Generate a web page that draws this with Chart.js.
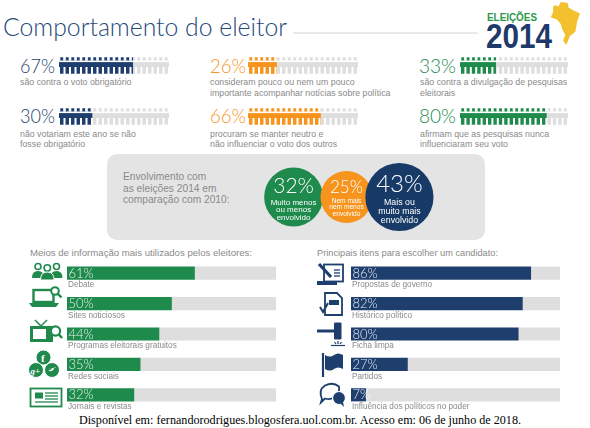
<!DOCTYPE html>
<html>
<head>
<meta charset="utf-8">
<script src="https://cdn.jsdelivr.net/npm/chart.js@4.4.1/dist/chart.umd.min.js"></script>
<style>
  body { margin: 0; width: 590px; height: 428px; background: #fff; position: relative; overflow: hidden; }
  canvas, svg { position: absolute; }
  svg { left: 0; top: 0; }
  .t { font-family: "Liberation Sans", Arial, sans-serif; fill: #8a8a8a; }
  .lt { font-family: Lato, "Open Sans", sans-serif; font-weight: 300; }
</style>
</head>
<body>

<svg width="590" height="428" viewBox="0 0 590 428">
  <!-- header -->
  <text class="lt" x="3" y="36" font-size="25" fill="#24497a" textLength="284" lengthAdjust="spacingAndGlyphs">Comportamento do eleitor</text>
  <line x1="293" y1="33" x2="478" y2="33" stroke="#d4d4d4" stroke-width="1"/>
  <polygon points="560.8,2 567.7,3.1 568.5,7.5 573.1,10.3 580,13.6 577,22 575.4,31.7 570,36.1 566.2,44.9 563.1,40.5 565.4,35 562.3,29.5 560.8,24 556.9,19.6 550.8,17.4 553.1,11.9 553.1,6.4 555.4,5.3 558.5,6.4" fill="#f3c12e"/>
  <text x="487" y="21" font-family="Liberation Sans" font-weight="bold" font-size="10" fill="#2a9a48" textLength="50" lengthAdjust="spacingAndGlyphs">ELEIÇÕES</text>
  <text x="486" y="48" font-family="Liberation Sans" font-weight="bold" font-size="35" fill="#1e3a6b" textLength="66" lengthAdjust="spacingAndGlyphs">2014</text>

  <!-- stat numbers -->
  <text class="lt" x="20" y="72.5" font-size="19" fill="#1e3f6e" textLength="35" lengthAdjust="spacingAndGlyphs">67%</text>
  <text class="lt" x="20" y="122.5" font-size="19" fill="#1e3f6e" textLength="35" lengthAdjust="spacingAndGlyphs">30%</text>
  <text class="lt" x="210" y="72.5" font-size="19" fill="#f7941d" textLength="36" lengthAdjust="spacingAndGlyphs">26%</text>
  <text class="lt" x="210" y="122.5" font-size="19" fill="#f7941d" textLength="36" lengthAdjust="spacingAndGlyphs">66%</text>
  <text class="lt" x="419" y="72.5" font-size="19" fill="#1e8a4c" textLength="37" lengthAdjust="spacingAndGlyphs">33%</text>
  <text class="lt" x="419" y="122.5" font-size="19" fill="#1e8a4c" textLength="37" lengthAdjust="spacingAndGlyphs">80%</text>

  <!-- stat descriptions -->
  <g class="t" font-size="8.8">
    <text x="20" y="85">são contra o voto obrigatório</text>
    <text x="20" y="136.5">não votariam este ano se não</text>
    <text x="20" y="147">fosse obrigatório</text>
    <text x="210" y="85">consideram pouco ou nem um pouco</text>
    <text x="210" y="95.5">importante acompanhar notícias sobre política</text>
    <text x="210" y="136.5">procuram se manter neutro e</text>
    <text x="210" y="147">não influenciar o voto dos outros</text>
    <text x="420" y="85">são contra a divulgação de pesquisas</text>
    <text x="420" y="95.5">eleitorais</text>
    <text x="420" y="136.5">afirmam que as pesquisas nunca</text>
    <text x="420" y="147">influenciaram seu voto</text>
  </g>

  <!-- involvement box -->
  <rect x="107" y="154" width="378" height="86" rx="10" fill="#e4e4e4"/>
  <g class="t" font-size="10.2" fill="#7a7a7a">
    <text x="123" y="180">Envolvimento com</text>
    <text x="123" y="191.5">as eleições 2014 em</text>
    <text x="123" y="203">comparação com 2010:</text>
  </g>

  <!-- section headings -->
  <text class="t" x="30" y="256" font-size="9.5" textLength="222" lengthAdjust="spacingAndGlyphs">Meios de informação mais utilizados pelos eleitores:</text>
  <text class="t" x="317" y="256" font-size="9.5" textLength="181" lengthAdjust="spacingAndGlyphs">Principais itens para escolher um candidato:</text>

  <!-- left icons (green) -->
  <g fill="#1f8a4c" stroke="#1f8a4c">
    <!-- people -->
    <g stroke-width="1.6" fill="none">
      <circle cx="38" cy="266.5" r="3"/><circle cx="56.5" cy="266.5" r="3"/>
    </g>
    <path d="M32 278 q0-7 6-7 q6 0 6 7z M50.5 278 q0-7 6-7 q6 0 6 7z" stroke="none"/>
    <circle cx="47.3" cy="268" r="3.2" fill="#fff" stroke-width="1.6"/>
    <path d="M40.5 280 q0-8 6.8-8 q6.8 0 6.8 8z" stroke="#fff" stroke-width="1"/>
    <!-- laptop -->
    <rect x="33.5" y="290" width="20" height="12" fill="none" stroke-width="2.4"/>
    <path d="M29 303 h30 l-3 4 h-24z" stroke="none"/>
    <circle cx="55" cy="291" r="3.8" fill="#fff" stroke-width="2"/>
    <line x1="57.8" y1="293.8" x2="61.5" y2="297.5" stroke-width="2.4"/>
    <!-- tv -->
    <line x1="35" y1="320" x2="41" y2="326" stroke-width="1.5"/><line x1="47" y1="320" x2="41" y2="326" stroke-width="1.5"/>
    <rect x="30" y="326" width="23" height="16" stroke="none"/>
    <rect x="33" y="329" width="13" height="10" fill="#fff" stroke="none"/>
    <circle cx="55.5" cy="331" r="4.6" fill="#fff" stroke-width="2.2"/>
    <line x1="58.8" y1="334.3" x2="62" y2="338" stroke-width="2.6"/>
    <!-- social -->
    <circle cx="43.5" cy="357.5" r="7.5" stroke="#fff" stroke-width="1"/>
    <circle cx="36" cy="370" r="7.5" stroke="#fff" stroke-width="1"/>
    <circle cx="52" cy="370" r="7.5" stroke="#fff" stroke-width="1"/>
    <g fill="#fff" stroke="none" font-family="Liberation Serif" font-weight="bold">
      <text x="41" y="362" font-size="11">f</text>
      <text x="30.5" y="373.5" font-size="9" font-style="italic">g+</text>
      <path d="M47.5 368 q3 2 5 0 q2 1 4-1.5 q-1 1-2 0.8 q-1 5-6.5 3.5 q3-0.5 3.5-2 q-2 0.3-4-0.8z"/>
    </g>
    <!-- newspaper -->
    <rect x="30.5" y="388.5" width="31" height="18" fill="none" stroke-width="1.8"/>
    <rect x="35" y="392.5" width="8" height="6" stroke="none"/>
    <g stroke-width="1.3">
      <line x1="45" y1="393" x2="58" y2="393"/><line x1="45" y1="396" x2="58" y2="396"/>
      <line x1="45" y1="399" x2="58" y2="399"/><line x1="35" y1="402" x2="58" y2="402"/>
    </g>
  </g>

  <!-- right icons (navy) -->
  <g fill="#1e3f6e" stroke="#1e3f6e">
    <!-- scroll with pen -->
    <rect x="324" y="264.5" width="19" height="17" fill="none" stroke-width="1.8"/>
    <path d="M317 281 h20 v4 h-20z" stroke="none"/>
    <g stroke-width="1.3"><line x1="334" y1="270" x2="340" y2="270"/><line x1="334" y1="273" x2="340" y2="273"/><line x1="334" y1="276" x2="340" y2="276"/></g>
    <line x1="319" y1="264" x2="331" y2="277" stroke-width="3.2"/>
    <!-- document with check -->
    <path d="M325 293 h12 l5 5 v17 h-17z" fill="none" stroke-width="1.8"/>
    <rect x="329" y="300" width="10" height="5" stroke="none"/>
    <path d="M320 307 l3 5 l5-9" fill="none" stroke-width="2"/>
    <!-- gavel -->
    <line x1="317" y1="331" x2="334" y2="331" stroke-width="3"/>
    <rect x="334" y="322.5" width="7.5" height="17" rx="1" stroke="none"/>
    <g stroke-width="1.2"><line x1="331" y1="345.5" x2="345" y2="345.5"/><line x1="338" y1="341" x2="338" y2="344"/><line x1="334.5" y1="342" x2="336" y2="344"/><line x1="341.5" y1="342" x2="340" y2="344"/></g>
    <!-- flag -->
    <line x1="323" y1="353" x2="323" y2="377" stroke-width="2.2"/>
    <path d="M325 355 q5 3 9 0 q4-3 9 0 v14 q-5-3-9 0 q-4 3-9 0z" stroke="none"/>
    <!-- speech bubbles -->
    <path d="M322 399 q-4-9 3-13.5 q8-4 14 1 q1 6-3 10 q-5 4-11 2 l-4 4z" fill="none" stroke-width="1.8"/>
    <circle cx="339" cy="398" r="6.5" stroke="#fff" stroke-width="1.2"/>
    <path d="M340 403 l4 4 l-1-5z" stroke="none"/>
  </g>

  <!-- source -->
  <text x="79" y="424" font-family="Liberation Serif, Times New Roman, serif" font-size="12.5" fill="#000" textLength="442" lengthAdjust="spacingAndGlyphs">Disponível em: fernandorodrigues.blogosfera.uol.com.br. Acesso em: 06 de junho de 2018.</text>
</svg>

<canvas id="picNavy" width="110" height="102" style="left:59px;top:40px"></canvas>
<canvas id="picOrange" width="110" height="102" style="left:248px;top:40px"></canvas>
<canvas id="picGreen" width="108" height="102" style="left:460px;top:40px"></canvas>
<canvas id="bubbles" width="227" height="86" style="left:233px;top:154px"></canvas>
<canvas id="media" width="209" height="162" style="left:67px;top:258px"></canvas>
<canvas id="criteria" width="209" height="162" style="left:351px;top:258px"></canvas>

<script>
// ---- data ----
const pictoRows = ["linha 1", "linha 2"];
const navyStats = [67, 30];
const orangeStats = [26, 66];
const greenStats = [33, 80];

const involvementValues = [32, 25, 43];
const involvementLabels = [
  ["Muito menos", "ou menos", "envolvido"],
  ["Nem mais", "nem menos", "envolvido"],
  ["Mais ou", "muito mais", "envolvido"]
];

const mediaLabels = ["Debate", "Sites noticiosos", "Programas eleitorais gratuitos", "Redes sociais", "Jornais e revistas"];
const mediaValues = [61, 50, 44, 35, 32];

const criteriaLabels = ["Propostas de governo", "Histórico político", "Ficha limpa", "Partidos", "Influência dos políticos no poder"];
const criteriaValues = [86, 82, 80, 27, 7];

// ---- colours ----
const NAVY = "#1e3f6e", ORANGE = "#f7941d", GREEN = "#1e8a4c", TRACK = "#dedede";

Chart.defaults.animation = false;
Chart.defaults.responsive = false;
Chart.defaults.plugins.legend.display = false;
Chart.defaults.plugins.tooltip.enabled = false;

// cuts the plain stacked bars into little "people" units
const pictoPlugin = {
  id: "picto",
  afterDatasetsDraw(chart) {
    const ctx = chart.ctx, xs = chart.scales.x;
    const x0 = xs.getPixelForValue(0), x1 = xs.getPixelForValue(100);
    const units = 20, uw = (x1 - x0) / units;
    ctx.save();
    ctx.fillStyle = "#fff";
    chart.getDatasetMeta(0).data.forEach(bar => {
      const h = bar.height, top = bar.y - h / 2;
      ctx.fillRect(x0, top + 3, x1 - x0, 1.6);
      for (let i = 0; i <= units; i++) {
        const ux = x0 + i * uw;
        ctx.fillRect(ux - 1.3, top - 1, 2.6, 4.2);
        ctx.fillRect(ux - 1, top + 9.5, 2, h - 9);
      }
    });
    ctx.restore();
  }
};

function pictoChart(id, values, color) {
  new Chart(document.getElementById(id), {
    type: "bar",
    data: {
      labels: pictoRows,
      datasets: [
        { data: values, backgroundColor: color, barThickness: 16 },
        { data: values.map(v => 100 - v), backgroundColor: TRACK, barThickness: 16 }
      ]
    },
    options: {
      indexAxis: "y",
      layout: { padding: 0 },
      scales: {
        x: { stacked: true, min: 0, max: 100, display: false },
        y: { stacked: true, display: false }
      }
    },
    plugins: [pictoPlugin]
  });
}

pictoChart("picNavy", navyStats, NAVY);
pictoChart("picOrange", orangeStats, ORANGE);
pictoChart("picGreen", greenStats, GREEN);

// ---- involvement bubbles ----
const bubbleText = [
  { pct: 21, pctDy: -4, lab: 8, labDy: [7.5, 15, 22.5] },
  { pct: 17, pctDy: -4.5, lab: 6.6, labDy: [5.5, 12, 18.5] },
  { pct: 24, pctDy: -5.5, lab: 8.8, labDy: [7.5, 16.5, 25.5] }
];

const bubbleLabelPlugin = {
  id: "bubbleLabels",
  afterDatasetsDraw(chart) {
    const ctx = chart.ctx;
    ctx.save();
    ctx.fillStyle = "#fff";
    ctx.textAlign = "center";
    ctx.textBaseline = "alphabetic";
    chart.getDatasetMeta(0).data.forEach((pt, i) => {
      const s = bubbleText[i];
      ctx.font = "300 " + s.pct + "px Lato, 'Open Sans', sans-serif";
      ctx.fillText(involvementValues[i] + "%", pt.x, pt.y + s.pctDy);
      ctx.font = s.lab + "px 'Liberation Sans', Arial, sans-serif";
      involvementLabels[i].forEach((line, j) => ctx.fillText(line, pt.x, pt.y + s.labDy[j]));
    });
    ctx.restore();
  }
};

new Chart(document.getElementById("bubbles"), {
  type: "bubble",
  data: {
    datasets: [{
      data: involvementValues.map((v, i) => ({ x: i, y: 0, r: Math.sqrt(v) * 5.2 })),
      backgroundColor: [GREEN, ORANGE, "#173a67"],
      borderWidth: 0
    }]
  },
  options: {
    layout: { padding: 0 },
    clip: false,
    scales: {
      x: { min: -0.5, max: 2.5, display: false },
      y: { min: -1, max: 1, display: false }
    }
  },
  plugins: [bubbleLabelPlugin]
});

// ---- bottom horizontal bars ----
const barLabelPlugin = {
  id: "barLabels",
  afterDatasetsDraw(chart) {
    const ctx = chart.ctx;
    const labels = chart.data.labels, values = chart.data.datasets[0].data;
    ctx.save();
    ctx.textBaseline = "middle";
    chart.getDatasetMeta(0).data.forEach((bar, i) => {
      const left = bar.base;
      ctx.font = "300 13px Lato, 'Open Sans', sans-serif";
      ctx.fillStyle = "rgba(255,255,255,0.88)";
      ctx.fillText(values[i] + "%", left + 1.5, bar.y + 0.5);
      ctx.font = "8.2px 'Liberation Sans', Arial, sans-serif";
      ctx.fillStyle = "#8a8a8a";
      ctx.fillText(labels[i], left + 1, bar.y + 12);
    });
    ctx.restore();
  }
};

function rankChart(id, labels, values, color) {
  new Chart(document.getElementById(id), {
    type: "bar",
    data: {
      labels: labels,
      datasets: [
        { data: values, backgroundColor: color, barThickness: 12.5 },
        { data: values.map(v => 100 - v), backgroundColor: TRACK, barThickness: 12.5 }
      ]
    },
    options: {
      indexAxis: "y",
      layout: { padding: { top: 0, bottom: 10, left: 0, right: 0 } },
      scales: {
        x: { stacked: true, min: 0, max: 100, display: false },
        y: { stacked: true, display: false }
      }
    },
    plugins: [barLabelPlugin]
  });
}

rankChart("media", mediaLabels, mediaValues, GREEN);
rankChart("criteria", criteriaLabels, criteriaValues, NAVY);
</script>
</body>
</html>
